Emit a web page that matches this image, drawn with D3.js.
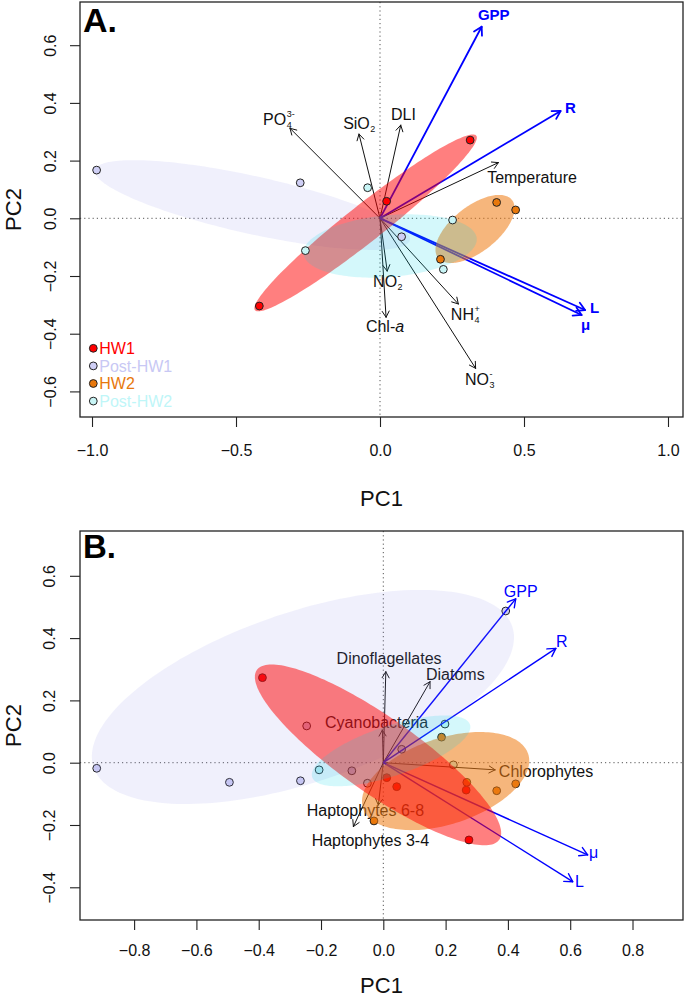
<!DOCTYPE html>
<html>
<head>
<meta charset="utf-8">
<title>PCA biplots</title>
<script src="https://cdn.jsdelivr.net/npm/d3@7"></script>
<style>
  body { margin: 0; background: #fff; }
  text { font-family: "Liberation Sans", Arial, Helvetica, sans-serif; }
</style>
</head>
<body>
<script>
  const width = 685, height = 999;

  const groups = ['HW1', 'Post-HW1', 'HW2', 'Post-HW2'];

  // ---- panel A : sample scores
  const aPC1 = [0.313, 0.023, -0.419, -0.984, -0.277, 0.075, 0.405, 0.471, 0.210, -0.259, -0.043, 0.252, 0.220];
  const aPC2 = [0.271, 0.059, -0.304, 0.167, 0.123, -0.064, 0.055, 0.029, -0.142, -0.112, 0.106, -0.006, -0.177];
  const aGroup = ['HW1', 'HW1', 'HW1', 'Post-HW1', 'Post-HW1', 'Post-HW1', 'HW2', 'HW2', 'HW2',
                  'Post-HW2', 'Post-HW2', 'Post-HW2', 'Post-HW2'];

  // panel A : loadings
  const aVar   = ['PO4', 'SiO2', 'DLI', 'Temperature', 'NO2', 'Chla', 'NH4', 'NO3', 'GPP', 'R', 'L', 'mu'];
  const aLoadX = [-0.3125, -0.073, 0.072, 0.411, 0.025, 0.021, 0.272, 0.332, 0.353, 0.627, 0.712, 0.700];
  const aLoadY = [0.312, 0.292, 0.323, 0.193, -0.183, -0.343, -0.297, -0.520, 0.664, 0.372, -0.318, -0.335];
  const aLabX  = [-0.406, -0.128, 0.038, 0.372, -0.024, -0.049, 0.246, 0.295, 0.340, 0.642, 0.729, 0.698];
  const aLabY  = [0.323, 0.308, 0.340, 0.122, -0.238, -0.393, -0.352, -0.577, 0.687, 0.364, -0.328, -0.387];

  // panel A : group ellipses (HW1, Post-HW1, HW2, Post-HW2)
  const aEllCx  = [-0.050, -0.443, 0.330, 0.035];
  const aEllCy  = [-0.016, 0.046, -0.037, -0.096];
  const aEllA   = [0.489, 0.560, 0.163, 0.302];
  const aEllB   = [0.064, 0.100, 0.079, 0.107];
  const aEllAng = [38.2, -12.5, 38, 5];

  const aXTicks = [-1, -0.5, 0, 0.5, 1];
  const aYTicks = [-0.6, -0.4, -0.2, 0, 0.2, 0.4, 0.6];

  // ---- panel B : sample scores
  const bPC1 = [-0.388, 0.011, 0.043, 0.266, 0.275,
                0.187, -0.030, 0.268, 0.364, 0.425,
                -0.920, -0.494, -0.266, 0.393, -0.246, -0.101, 0.059,
                -0.206, -0.051, 0.225, 0.198];
  const bPC2 = [0.273, -0.048, -0.077, -0.088, -0.248,
                0.082, -0.187, -0.063, -0.090, -0.068,
                -0.018, -0.063, -0.058, 0.487, 0.118, -0.026, 0.043,
                -0.023, -0.066, -0.007, 0.124];
  const bGroup = ['HW1', 'HW1', 'HW1', 'HW1', 'HW1',
                  'HW2', 'HW2', 'HW2', 'HW2', 'HW2',
                  'Post-HW1', 'Post-HW1', 'Post-HW1', 'Post-HW1', 'Post-HW1', 'Post-HW1', 'Post-HW1',
                  'Post-HW2', 'Post-HW2', 'Post-HW2', 'Post-HW2'];

  // panel B : loadings
  const bVar   = ['Dinoflagellates', 'Diatoms', 'Cyanobacteria', 'Chlorophytes', 'Haptophytes 6-8',
                  'Haptophytes 3-4', 'GPP', 'R', 'mu', 'L'];
  const bLoadX = [0.008, 0.150, -0.003, 0.359, -0.016, -0.096, 0.425, 0.554, 0.656, 0.608];
  const bLoadY = [0.292, 0.260, 0.105, -0.023, -0.136, -0.205, 0.526, 0.367, -0.296, -0.382];
  const bLabX  = [-0.150, 0.137, -0.187, 0.371, -0.246, -0.230, 0.387, 0.554, 0.660, 0.615];
  const bLabY  = [0.317, 0.265, 0.110, -0.047, -0.171, -0.267, 0.533, 0.372, -0.306, -0.398];

  const bEllCx  = [-0.017, -0.258, 0.200, 0.025];
  const bEllCy  = [0.025, 0.211, -0.059, 0.038];
  const bEllA   = [0.475, 0.709, 0.279, 0.267];
  const bEllB   = [0.122, 0.273, 0.138, 0.080];
  const bEllAng = [-35, 18.6, 18.25, 18.5];

  const bXTicks = [-0.8, -0.6, -0.4, -0.2, 0, 0.2, 0.4, 0.6, 0.8];
  const bYTicks = [-0.4, -0.2, 0, 0.2, 0.4, 0.6];

  const metabolic = ['GPP', 'R', 'L', 'mu'];

  // how each variable name is typeset
  const labelSpec = {
    PO4: { main: 'PO', sub: '4', sup: '3-' },
    SiO2: { main: 'SiO', sub: '2' },
    DLI: { main: 'DLI' },
    Temperature: { main: 'Temperature' },
    NO2: { main: 'NO', sub: '2', sup: '-' },
    Chla: { main: 'Chl-', it: 'a' },
    NH4: { main: 'NH', sub: '4', sup: '+' },
    NO3: { main: 'NO', sub: '3', sup: '-' },
    mu: { main: 'μ' }
  };

  // styles
  const pointFill = { 'HW1': '#ff0000', 'Post-HW1': '#cfcff5', 'HW2': '#e8780c', 'Post-HW2': '#c8f5f6' };
  const legendCol = { 'HW1': '#ff0000', 'Post-HW1': '#c8c8f4', 'HW2': '#e8780c', 'Post-HW2': '#bff6f8' };
  const ellFill = { 'HW1': '#ff0000', 'Post-HW1': '#8c8ceb', 'HW2': '#ee7a10', 'Post-HW2': '#00d7e6' };
  const ellOpac = { 'HW1': 0.5, 'Post-HW1': 0.13, 'HW2': 0.55, 'Post-HW2': 0.17 };
  const ellOrder = ['Post-HW1', 'HW2', 'HW1', 'Post-HW2'];

  const svg = d3.select('body').append('svg')
    .attr('width', width)
    .attr('height', height);

  function drawArrow(g, x0, y0, x1, y1, col, lw, head) {
    g.append('line')
      .attr('x1', x0).attr('y1', y0).attr('x2', x1).attr('y2', y1)
      .attr('stroke', col).attr('stroke-width', lw);
    const ang = Math.atan2(y1 - y0, x1 - x0);
    const spread = Math.PI / 6;
    [ang + Math.PI - spread, ang + Math.PI + spread].forEach(a => {
      g.append('line')
        .attr('x1', x1).attr('y1', y1)
        .attr('x2', x1 + head * Math.cos(a)).attr('y2', y1 + head * Math.sin(a))
        .attr('stroke', col).attr('stroke-width', lw)
        .attr('stroke-linecap', 'round');
    });
  }

  function drawLabel(g, px, py, name, col, size, bold) {
    const spec = labelSpec[name] || { main: name };
    const t = g.append('text')
      .attr('x', px).attr('y', py)
      .attr('fill', col)
      .attr('font-size', size)
      .attr('font-weight', bold ? 'bold' : 'normal');
    t.append('tspan').text(spec.main);
    if (spec.it) t.append('tspan').attr('font-style', 'italic').text(spec.it);
    const w = t.node().getComputedTextLength();
    if (spec.sub) {
      g.append('text').attr('x', px + w + 0.5).attr('y', py + 3)
        .attr('font-size', 9).attr('fill', col).text(spec.sub);
    }
    if (spec.sup) {
      g.append('text').attr('x', px + w + 0.5).attr('y', py - 8)
        .attr('font-size', 9).attr('fill', col).text(spec.sup);
    }
  }

  function ellipsePath(cx, cy, a, b, angle, x, y) {
    const th = angle * Math.PI / 180;
    const pts = d3.range(0, 360, 2).map(d => {
      const t = d * Math.PI / 180;
      const u = a * Math.cos(t), v = b * Math.sin(t);
      return [x(cx + u * Math.cos(th) - v * Math.sin(th)),
              y(cy + u * Math.sin(th) + v * Math.cos(th))];
    });
    return d3.line()(pts) + 'Z';
  }

  function panel(p) {
    const x = d3.scaleLinear().domain(p.xLim).range([p.left, p.right]);
    const y = d3.scaleLinear().domain(p.yLim).range([p.bottom, p.top]);
    const root = svg.append('g');
    const layers = {};
    p.order.forEach(k => { layers[k] = root.append('g'); });

    // zero lines
    const gd = layers.guides;
    gd.append('line')
      .attr('x1', p.left).attr('x2', p.right).attr('y1', y(0)).attr('y2', y(0))
      .attr('stroke', '#555').attr('stroke-dasharray', '1.2,3');
    gd.append('line')
      .attr('x1', x(0)).attr('x2', x(0)).attr('y1', p.top).attr('y2', p.bottom)
      .attr('stroke', '#555').attr('stroke-dasharray', '1.2,3');

    // axes
    const fmt = d3.format('.1f');
    const xa = gd.append('g')
      .attr('transform', `translate(0,${p.bottom})`)
      .call(d3.axisBottom(x).tickValues(p.xTicks).tickSize(10).tickPadding(p.xPad).tickFormat(fmt));
    const ya = gd.append('g')
      .attr('transform', `translate(${p.left},0)`)
      .call(d3.axisLeft(y).tickValues(p.yTicks).tickSize(10).tickFormat(fmt));
    [xa, ya].forEach(a => {
      a.select('.domain').remove();
      a.selectAll('line').attr('stroke', '#222').attr('stroke-width', 1.1);
      a.selectAll('text').attr('font-size', 16).attr('fill', '#111')
        .attr('font-family', '"Liberation Sans", Arial, sans-serif');
    });
    ya.selectAll('text')
      .attr('x', null).attr('dy', null)
      .attr('text-anchor', 'middle')
      .attr('transform', `translate(${-p.yLabOff},0) rotate(-90)`);

    gd.append('rect')
      .attr('x', p.left).attr('y', p.top)
      .attr('width', p.right - p.left).attr('height', p.bottom - p.top)
      .attr('fill', 'none').attr('stroke', '#222').attr('stroke-width', 1.3);

    gd.append('text')
      .attr('x', (p.left + p.right) / 2).attr('y', p.pc1Y)
      .attr('text-anchor', 'middle').attr('font-size', 22).attr('fill', '#111')
      .text('PC1');
    gd.append('text')
      .attr('transform', `translate(21,${(p.top + p.bottom) / 2}) rotate(-90)`)
      .attr('text-anchor', 'middle').attr('font-size', 22).attr('fill', '#111')
      .text('PC2');
    gd.append('text')
      .attr('x', p.left + 3).attr('y', p.tagY)
      .attr('font-size', p.tagSize).attr('font-weight', 'bold').attr('fill', '#000')
      .text(p.tag);

    // loadings
    p.vars.forEach((v, i) => {
      const met = metabolic.includes(v);
      const col = met ? '#0000ff' : '#111';
      drawArrow(layers.arrows, x(0), y(0), x(p.loadX[i]), y(p.loadY[i]),
        col, met ? p.metLw : 1, met ? 9 : 7);
      drawLabel(layers.labels, x(p.labX[i]), y(p.labY[i]), v, met ? '#0000ff' : '#111',
        met ? p.metSize : 16, met && p.metBold);
    });

    // ellipses
    ellOrder.forEach(gname => {
      const k = groups.indexOf(gname);
      layers.ellipses.append('path')
        .attr('d', ellipsePath(p.ellCx[k], p.ellCy[k], p.ellA[k], p.ellB[k], p.ellAng[k], x, y))
        .attr('fill', ellFill[gname]).attr('fill-opacity', ellOpac[gname]);
    });

    // samples
    layers.points.selectAll('circle')
      .data(p.pc1.map((d, i) => ({ x: d, y: p.pc2[i], g: p.grp[i] })))
      .enter().append('circle')
      .attr('cx', d => x(d.x)).attr('cy', d => y(d.y))
      .attr('r', 3.9)
      .attr('fill', d => pointFill[d.g])
      .attr('stroke', '#222').attr('stroke-width', 1);

    return { x, y, root };
  }

  panel({
    left: 80, right: 683, top: 2, bottom: 417,
    xLim: [-1.0417, 1.0521], yLim: [-0.6887, 0.7497],
    xTicks: aXTicks, yTicks: aYTicks, xPad: 18, yLabOff: 24, pc1Y: 506,
    tag: 'A.', tagY: 32, tagSize: 34,
    pc1: aPC1, pc2: aPC2, grp: aGroup,
    vars: aVar, loadX: aLoadX, loadY: aLoadY, labX: aLabX, labY: aLabY,
    ellCx: aEllCx, ellCy: aEllCy, ellA: aEllA, ellB: aEllB, ellAng: aEllAng,
    metLw: 1.8, metSize: 15, metBold: true,
    order: ['guides', 'arrows', 'labels', 'ellipses', 'points', 'legend']
  });

  panel({
    left: 80, right: 683, top: 531, bottom: 920,
    xLim: [-0.9737, 0.9621], yLim: [-0.505, 0.7438],
    xTicks: bXTicks, yTicks: bYTicks, xPad: 15, yLabOff: 25, pc1Y: 993,
    tag: 'B.', tagY: 558, tagSize: 33,
    pc1: bPC1, pc2: bPC2, grp: bGroup,
    vars: bVar, loadX: bLoadX, loadY: bLoadY, labX: bLabX, labY: bLabY,
    ellCx: bEllCx, ellCy: bEllCy, ellA: bEllA, ellB: bEllB, ellAng: bEllAng,
    metLw: 1.4, metSize: 16, metBold: false,
    order: ['guides', 'points', 'arrows', 'labels', 'ellipses', 'legend']
  });

  // legend (panel A, bottom left)
  const leg = svg.append('g').attr('transform', 'translate(93.3,348.3)');
  groups.forEach((gname, i) => {
    leg.append('circle')
      .attr('cx', 0).attr('cy', i * 17.6).attr('r', 3.9)
      .attr('fill', pointFill[gname]).attr('stroke', '#222');
    leg.append('text')
      .attr('x', 6).attr('y', i * 17.6 + 6)
      .attr('font-size', 16).attr('fill', legendCol[gname])
      .text(gname);
  });
</script>
</body>
</html>
